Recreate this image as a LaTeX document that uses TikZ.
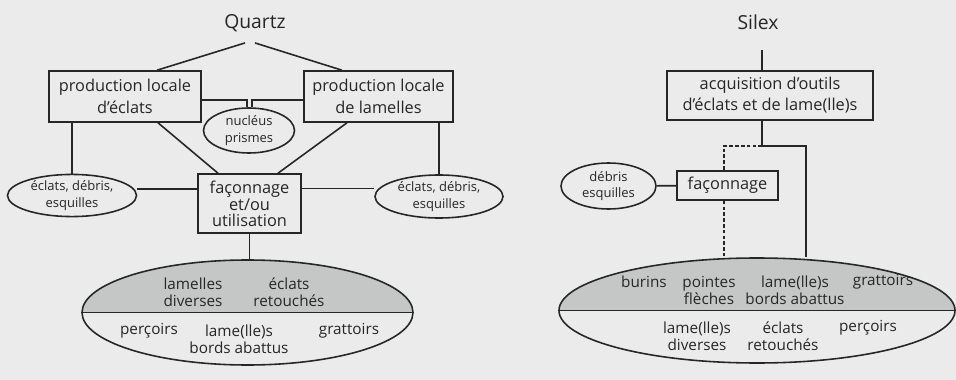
\documentclass[tikz,border=0pt]{standalone}
\usepackage{fontspec}
\setmainfont{Open Sans}
\usepackage{xcolor}
\usepackage{tikz}
\usetikzlibrary{positioning, calc, shapes.geometric}

\definecolor{paper}{HTML}{EBEBEB}
\definecolor{sheet}{HTML}{C5C7C6}
\definecolor{ink}{HTML}{262626}

\tikzset{
  title/.style={inner sep=0pt, font=\fontsize{11}{13}\selectfont},
  stage/.style={draw, rectangle, align=center, inner sep=0pt, font=\fontsize{9.3}{12.5}\selectfont},
  waste/.style={draw, ellipse, align=center, inner sep=0pt, font=\fontsize{7.4}{9.5}\selectfont},
  toolset/.style={draw, ellipse, inner sep=0pt, minimum height=21mm,
    path picture={\fill[sheet] (path picture bounding box.west) rectangle (path picture bounding box.north east);}},
  tool/.style={align=center, inner sep=0pt, font=\fontsize{8.7}{9.7}\selectfont},
  guess/.style={dash pattern=on 2pt off 1.3pt}
}

\begin{document}
\begin{tikzpicture}[x=0.2mm, y=-0.2mm, line width=0.9pt, color=ink]
\useasboundingbox (0, 0) rectangle (956, 380);
\fill[paper] (0, 0) rectangle (956, 380);

% quartz
\node[title] (quartz) at (255, 23){Quartz};
\node[stage, minimum width=30.4mm, minimum height=10.2mm] (pleft) at (125, 96.5){production locale\\d'éclats};
\node[stage, minimum width=29.8mm, minimum height=10.2mm] (pright) at (378.5, 96.5){production locale\\de lamelles};
\node[waste, minimum width=18.2mm, minimum height=9mm] (nucl) at (249, 130.5){nucléus\\prismes};
\node[stage, minimum width=20.6mm, minimum height=11.8mm, font=\fontsize{9.3}{8.8}\selectfont] (faconL) at (249.5, 203.5){façonnage\\et/ou\\utilisation};
\node[waste, minimum width=25.8mm, minimum height=8.4mm] (eclL) at (72, 195.5){éclats, débris,\\esquilles};
\node[waste, minimum width=25.6mm, minimum height=8.6mm] (eclR) at (439, 196.5){éclats, débris,\\esquilles};
\node[toolset, minimum width=66.2mm] (bigL) at (247.5, 312.5){};

\draw ([xshift=-2mm, yshift=-2.1mm]quartz.south) -- ([xshift=6.4mm]pleft.north);
\draw ([yshift=-2.1mm]quartz.south) -- ([xshift=-7.3mm]pright.north);
\draw ([yshift=-0.7mm]pleft.east) -| ([xshift=-0.4mm]nucl.north);
\draw ([yshift=-0.7mm]pright.west) -| ([xshift=0.6mm]nucl.north);
\draw (pleft.south -| eclL.north) -- (eclL.north);
\draw ([xshift=6.6mm]pleft.south) -- ([xshift=-6.3mm]faconL.north);
\draw ([xshift=-6.3mm]pright.south) -- ([xshift=5.7mm]faconL.north);
\draw (pright.south -| eclR.north) -- (eclR.north);
\draw ([yshift=2.9mm]faconL.west) -- ([yshift=2.9mm]faconL.west -| eclL.east);
\draw ([yshift=3mm]faconL.east) -- ([yshift=3mm]faconL.east -| eclR.west);
\draw (faconL.south) -- (faconL.south |- bigL.north);
\draw (bigL.west) -- (bigL.east);

\node[tool] (lamdiv) at (193, 292.5){lamelles\\diverses};
\node[tool] (eclret) at (289, 292.5){éclats\\retouchés};
\node[tool] (percL) at (149, 331){perçoirs};
\node[tool] (bordL) at (239, 339.5){lame(lle)s\\bords abattus};
\node[tool] (gratL) at (349, 331){grattoirs};

% silex
\node[title] (silex) at (758, 22){Silex};
\node[stage, minimum width=41.2mm, minimum height=9.8mm, font=\fontsize{9.3}{12}\selectfont] (acq) at (770, 95.5){acquisition d'outils\\d'éclats et de lame(lle)s};
\node[stage, minimum width=20.2mm, minimum height=5.8mm] (faconR) at (727.5, 185.5){façonnage};
\node[waste, minimum width=19mm, minimum height=9.2mm] (debR) at (608.5, 186){débris\\esquilles};
\node[toolset, minimum width=79.2mm] (bigR) at (757, 310.5){};
\coordinate (fork) at (762, 146);

\draw (acq.north -| fork) -- ([yshift=-3.9mm]silex.south -| fork);
\draw (acq.south -| fork) -- (fork) -| ([xshift=9.8mm]bigR.north);
\draw[guess] (fork) -| ([xshift=-0.7mm]faconR.north);
\draw[guess] ([xshift=-0.7mm]faconR.south) -- ([xshift=-0.7mm]faconR.south |- bigR.north);
\draw (debR) -- (faconR);
\draw (bigR.west) -- (bigR.east);

\node[tool] (burin) at (644, 282){burins};
\node[tool] (pointe) at (709, 290.5){pointes\\flèches};
\node[tool] (bordR) at (795, 290.5){lame(lle)s\\bords abattus};
\node[tool] (gratR) at (883, 282){grattoirs};
\node[tool] (lamR) at (697, 336.5){lame(lle)s\\diverses};
\node[tool] (retR) at (783, 336.5){éclats\\retouchés};
\node[tool] (percR) at (868, 328){perçoirs};
\end{tikzpicture}
\end{document}
